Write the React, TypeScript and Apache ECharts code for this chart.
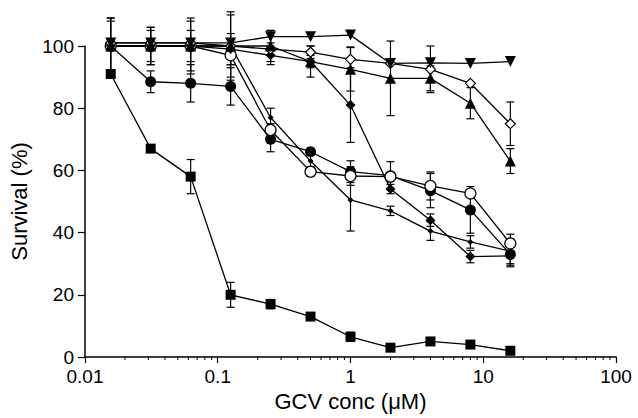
import React, { useEffect, useRef } from "react";
import * as echarts from "echarts";

const conc = [0.015625, 0.03125, 0.0625, 0.125, 0.25, 0.5, 1, 2, 4, 8, 16];

const squares = [91, 67, 58, 20, 17, 13, 6.5, 3, 5, 4, 2];
const squaresErr = [0, 1, 5.5, 4, 1.5, 1, 1.5, 0, 0, 0, 0];

const filledCircles = [100, 88.5, 88, 87, 70, 66, 59.6, 58.3, 53.5, 47.3, 33];
const filledCirclesErr = [0, 3.5, 6, 6, 4, 0, 3.5, 4.5, 5.5, 7.5, 4];

const openCircles = [100, 100, 100, 97, 73, 59.6, 58.2, 58, 55, 52.6, 36.5];
const openCirclesErr = [0, 0, 0, 3, 2, 1.5, 3, 0, 4.5, 0, 3];

const diamonds = [100, 100, 100, 99, 97, 95, 81, 54, 44, 32.3, 32.5];
const diamondsErr = [8, 5, 5, 5, 3, 2, 12, 1.5, 2, 2, 3];

const smallDots = [100, 100, 100, 100, 77, 63, 50.5, 47, 40.5, 37, 34];
const smallDotsErr = [9, 6, 9, 11, 3, 2, 10, 1.5, 3, 2, 4];

const openDiamonds = [101, 101, 101, 100, 99, 98, 95.7, 94.4, 92.5, 88, 75];
const openDiamondsErr = [0, 0, 0, 0, 0, 2, 4, 0, 7.5, 0, 7];

const triangles = [100, 100, 100, 100, 100, 95, 92.5, 89.6, 89.6, 81.6, 63];
const trianglesErr = [9, 6, 8, 10, 5, 5, 7, 12, 4, 5, 4];

const invTriangles = [101, 101, 101, 101, 103, 103, 103.5, 94.4, 94.6, 94.4, 95];
const invTrianglesErr = [0, 0, 0, 0, 2, 0, 0, 0, 0, 0, 0];

const majorTicks = [0.01, 0.1, 1, 10, 100];
const minorTicks = [
  0.02, 0.03, 0.04, 0.05, 0.06, 0.07, 0.08, 0.09,
  0.2, 0.3, 0.4, 0.5, 0.6, 0.7, 0.8, 0.9,
  2, 3, 4, 5, 6, 7, 8, 9,
  20, 30, 40, 50, 60, 70, 80, 90,
];

const FONT = "'Liberation Sans', Arial, Helvetica, sans-serif";

export default function App() {
  const ref = useRef<HTMLDivElement>(null);
  useEffect(() => {
    document.body.style.margin = "0";
    const chart = echarts.init(ref.current!, null, { renderer: "svg" });

    const defs = [
      { name: "squares", vals: squares, err: squaresErr, symbol: "rect", size: 10, rotate: 0, fill: "#000" },
      { name: "filledCircles", vals: filledCircles, err: filledCirclesErr, symbol: "circle", size: 11, rotate: 0, fill: "#000" },
      { name: "openCircles", vals: openCircles, err: openCirclesErr, symbol: "circle", size: 11, rotate: 0, fill: "#fff" },
      { name: "diamonds", vals: diamonds, err: diamondsErr, symbol: "diamond", size: 10, rotate: 0, fill: "#000" },
      { name: "smallDots", vals: smallDots, err: smallDotsErr, symbol: "diamond", size: 6, rotate: 0, fill: "#000" },
      { name: "openDiamonds", vals: openDiamonds, err: openDiamondsErr, symbol: "diamond", size: 10, rotate: 0, fill: "#fff" },
      { name: "triangles", vals: triangles, err: trianglesErr, symbol: "triangle", size: 11, rotate: 0, fill: "#000" },
      { name: "invTriangles", vals: invTriangles, err: invTrianglesErr, symbol: "triangle", size: 11, rotate: 180, fill: "#000" },
    ];

    const errData: number[][] = [];
    defs.forEach((d) => {
      d.vals.forEach((v, i) => {
        if (d.err[i] > 0) errData.push([conc[i], v, d.err[i]]);
      });
    });

    const lineSeries = defs.map((d) => ({
      type: "line",
      name: d.name,
      data: conc.map((c, i) => [c, d.vals[i]]),
      symbol: d.symbol,
      symbolSize: d.size,
      symbolRotate: d.rotate,
      showAllSymbol: true,
      clip: false,
      z: 3,
      lineStyle: { color: "#000", width: 1.3 },
      itemStyle: { color: d.fill, borderColor: "#000", borderWidth: d.fill === "#fff" ? 1.2 : 0 },
      emphasis: { disabled: true },
    }));

    const option: any = {
      animation: false,
      backgroundColor: "#fff",
      textStyle: { fontFamily: FONT },
      grid: { left: 83, right: 22, top: 46, bottom: 61, containLabel: false },
      xAxis: {
        type: "log",
        logBase: 10,
        min: 0.01,
        max: 100,
        name: "GCV conc (\u03bcM)",
        nameLocation: "middle",
        nameGap: 27,
        nameTextStyle: { color: "#000", fontSize: 22, fontFamily: FONT },
        axisLine: { show: true, lineStyle: { color: "#000", width: 1.5 } },
        axisTick: { show: true, length: 6, inside: false, lineStyle: { color: "#000", width: 1.2 } },
        minorTick: { show: false },
        splitLine: { show: false },
        axisLabel: {
          color: "#000",
          fontSize: 19,
          lineHeight: 19,
          fontFamily: FONT,
          margin: 10,
          formatter: (v: number) => {
            const m = majorTicks.find((t) => Math.abs(t - v) / t < 1e-6);
            return m !== undefined ? String(m) : "";
          },
        },
      },
      yAxis: {
        type: "value",
        min: 0,
        max: 100,
        interval: 20,
        name: "Survival (%)",
        nameLocation: "middle",
        nameRotate: 90,
        nameGap: 55,
        nameTextStyle: { color: "#000", fontSize: 22, fontFamily: FONT },
        axisLine: { show: true, lineStyle: { color: "#000", width: 1.5 } },
        axisTick: { show: true, length: 7, inside: false, lineStyle: { color: "#000", width: 1.2 } },
        splitLine: { show: false },
        axisLabel: { color: "#000", fontSize: 19, lineHeight: 14, fontFamily: FONT, margin: 11 },
      },
      series: [
        {
          type: "custom",
          name: "minorTicks",
          data: minorTicks.map((v) => [v, 0]),
          clip: false,
          silent: true,
          z: 1,
          renderItem: (params: any, api: any) => {
            const p = api.coord([api.value(0), 0]);
            return {
              type: "line",
              shape: { x1: p[0], y1: p[1], x2: p[0], y2: p[1] + 3 },
              style: { stroke: "#000", lineWidth: 1 },
            };
          },
        },
        {
          type: "custom",
          name: "errorBars",
          data: errData,
          clip: false,
          silent: true,
          z: 2,
          renderItem: (params: any, api: any) => {
            const x = api.value(0);
            const y = api.value(1);
            const e = api.value(2);
            const top = api.coord([x, y + e]);
            const bot = api.coord([x, y - e]);
            const w = 4;
            const st = { stroke: "#000", lineWidth: 1.2 };
            return {
              type: "group",
              children: [
                { type: "line", shape: { x1: top[0], y1: top[1], x2: bot[0], y2: bot[1] }, style: st },
                { type: "line", shape: { x1: top[0] - w, y1: top[1], x2: top[0] + w, y2: top[1] }, style: st },
                { type: "line", shape: { x1: bot[0] - w, y1: bot[1], x2: bot[0] + w, y2: bot[1] }, style: st },
              ],
            };
          },
        },
        ...lineSeries,
      ],
    };
    chart.setOption(option);
    return () => chart.dispose();
  }, []);
  return <div ref={ref} style={{ width: 638, height: 418 }} />;
}
